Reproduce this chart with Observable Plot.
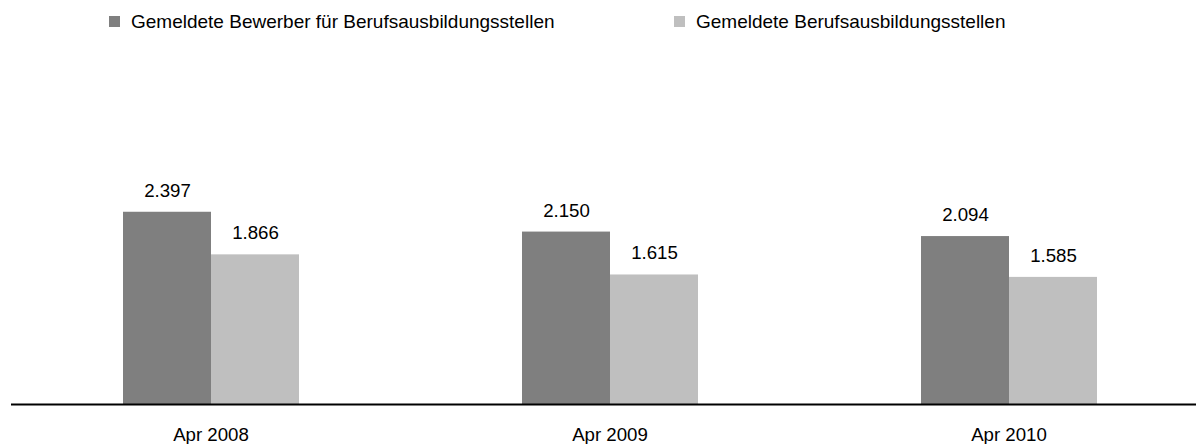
<!DOCTYPE html>
<html><head><meta charset="utf-8">
<script src="https://cdn.jsdelivr.net/npm/d3@7"></script>
<script src="https://cdn.jsdelivr.net/npm/@observablehq/plot@0.6"></script>
<style>
body{margin:0;background:#fff;overflow:hidden;font-family:"Liberation Sans",Arial,sans-serif;}
#wrap{position:relative;width:1196px;height:444px;overflow:hidden;}
.leg{position:absolute;top:12px;font-size:19px;line-height:20px;color:#000;white-space:nowrap;padding-left:22px;}
.sw{position:absolute;left:0;width:11px;height:11px;top:4px;}
#chart{position:absolute;left:0;top:0;}
</style></head><body><div id="wrap"><div id="legend"></div><div id="chart"></div></div>
<script>
const periods = ["Apr 2008", "Apr 2009", "Apr 2010"];
const seriesNames = ["Gemeldete Bewerber für Berufsausbildungsstellen", "Gemeldete Berufsausbildungsstellen"];
const bewerber = [2397, 2150, 2094];
const stellen = [1866, 1615, 1585];
const colors = ["#7f7f7f", "#bfbfbf"];

const data = [];
periods.forEach((p, i) => {
  data.push({period: p, series: seriesNames[0], value: bewerber[i]});
  data.push({period: p, series: seriesNames[1], value: stellen[i]});
});

const de = d3.formatLocale({decimal: ",", thousands: ".", grouping: [3], currency: ["", " €"]});
const fmt = de.format(",");

// legend
const legend = document.getElementById("legend");
const legLeft = [109, 674];
seriesNames.forEach((s, i) => {
  const d = document.createElement("div");
  d.className = "leg";
  d.style.left = legLeft[i] + "px";
  const sw = document.createElement("span");
  sw.className = "sw";
  sw.style.background = colors[i];
  d.appendChild(sw);
  d.appendChild(document.createTextNode(s));
  legend.appendChild(d);
});

const chart = Plot.plot({
  width: 1196,
  height: 444,
  marginTop: 3,
  marginBottom: 40,
  marginLeft: 11,
  marginRight: 0,
  style: {fontFamily: "Liberation Sans, Arial, sans-serif", fontSize: "18.67px", color: "#000", background: "transparent"},
  fx: {domain: periods, range: [11, 1208], padding: 0, axis: "bottom", label: null, tickSize: 0, tickPadding: 23},
  x: {domain: seriesNames, paddingInner: 0, paddingOuter: 1.254, axis: null},
  y: {domain: [0, 5000], axis: null},
  color: {domain: seriesNames, range: colors},
  marks: [
    Plot.barY(data, {fx: "period", x: "series", y: "value", fill: "series"}),
    Plot.text(data, {fx: "period", x: "series", y: "value", text: d => fmt(d.value), lineAnchor: "bottom", dy: -15.5, fill: "#000"}),
    Plot.ruleY([0], {stroke: "#000", strokeWidth: 2})
  ]
});
document.getElementById("chart").appendChild(chart);
</script>
</body></html>
